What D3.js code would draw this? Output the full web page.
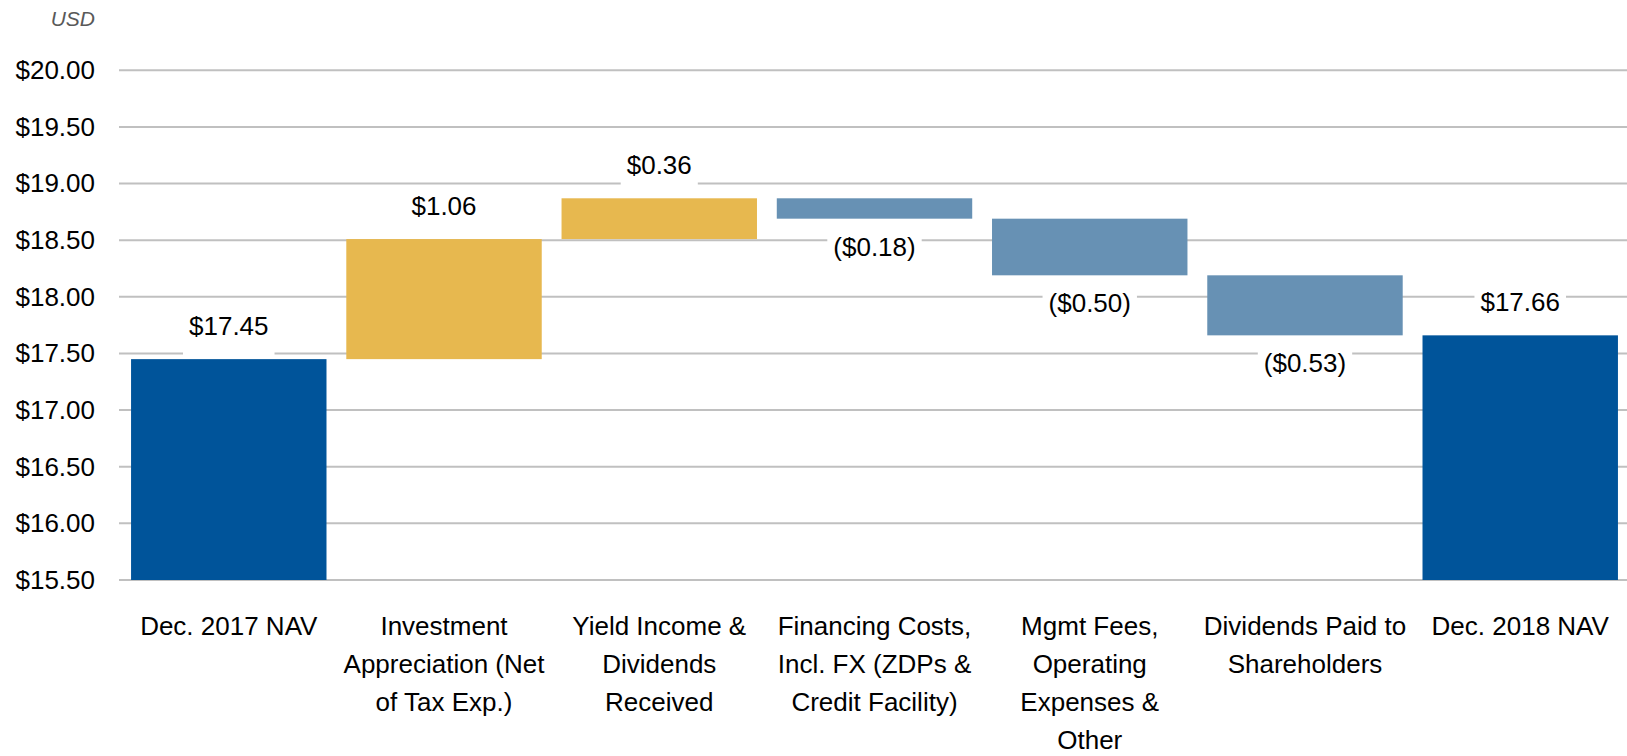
<!DOCTYPE html>
<html>
  <head>
    <meta charset="utf-8" />
    <title>NAV Bridge Dec. 2017 to Dec. 2018</title>
    <script src="https://d3js.org/d3.v7.min.js"></script>
    <style>
      body {
        margin: 0;
        background-color: white;
      }
      svg {
        display: block;
        font-family: "Liberation Sans", Arial, sans-serif;
      }
    </style>
  </head>

  <body>
    <svg width="1627" height="756" id="bridge"></svg>

    <script>
      // categories, split into the lines shown under each bar
      const categories = [
        ["Dec. 2017 NAV"],
        ["Investment", "Appreciation (Net", "of Tax Exp.)"],
        ["Yield Income &", "Dividends", "Received"],
        ["Financing Costs,", "Incl. FX (ZDPs &", "Credit Facility)"],
        ["Mgmt Fees,", "Operating", "Expenses &", "Other"],
        ["Dividends Paid to", "Shareholders"],
        ["Dec. 2018 NAV"]
      ];
      // change per step, totals are marked in kinds
      const values = [17.45, 1.06, 0.36, -0.18, -0.50, -0.53, 17.66];
      const kinds = ["total", "up", "up", "down", "down", "down", "total"];
      const labels = ["$17.45", "$1.06", "$0.36", "($0.18)", "($0.50)", "($0.53)", "$17.66"];
      const yTicks = [15.5, 16, 16.5, 17, 17.5, 18, 18.5, 19, 19.5, 20];

      const colors = {
        total: "#00549a",
        up: "#e7b84f",
        down: "#6791b4"
      };

      const svg = d3.select("#bridge");
      const fontSize = 26;

      // running start / end of each bar
      let running = 0;
      const bars = values.map(function(v, i) {
        let lo, hi;
        if (kinds[i] == "total") {
          lo = 15.5;
          hi = v;
          running = v;
        } else {
          const start = running;
          running = start + v;
          lo = Math.min(start, running);
          hi = Math.max(start, running);
        }
        return { i: i, lo: lo, hi: hi, kind: kinds[i], label: labels[i] };
      });

      const x = d3.scaleBand()
        .domain(d3.range(categories.length))
        .range([119, 1630])
        .paddingInner(0.092)
        .paddingOuter(0.056);

      const y = d3.scaleLinear()
        .domain([15.5, 20])
        .range([580, 70.3]);

      // gridlines
      svg.append("g")
        .selectAll("line")
        .data(yTicks)
        .enter()
        .append("line")
        .attr("x1", 119)
        .attr("x2", 1627)
        .attr("y1", d => y(d))
        .attr("y2", d => y(d))
        .attr("stroke", "#c0c0c0")
        .attr("stroke-width", 2);

      // y axis labels
      const yAxis = svg.append("g")
        .attr("transform", "translate(95,0)")
        .call(d3.axisLeft(y).tickValues(yTicks).tickSize(0).tickPadding(0)
          .tickFormat(d => "$" + d3.format(".2f")(d)));
      yAxis.select(".domain").remove();
      yAxis.selectAll("text")
        .attr("font-size", fontSize)
        .attr("font-family", "'Liberation Sans', Arial, sans-serif")
        .attr("fill", "#000");

      svg.append("text")
        .attr("x", 95)
        .attr("y", 26)
        .attr("text-anchor", "end")
        .attr("font-size", 21)
        .attr("font-style", "italic")
        .attr("fill", "#595959")
        .text("USD");

      // bars
      svg.append("g")
        .selectAll("rect")
        .data(bars)
        .enter()
        .append("rect")
        .attr("x", d => x(d.i))
        .attr("width", x.bandwidth())
        .attr("y", d => y(d.hi))
        .attr("height", d => y(d.lo) - y(d.hi))
        .attr("fill", d => colors[d.kind]);

      // data labels with white boxes
      const labelG = svg.append("g");
      bars.forEach(function(d) {
        const g = labelG.append("g");
        const cx = x(d.i) + x.bandwidth() / 2;
        const down = d.kind == "down";
        const base = down ? y(d.lo) + 37 : y(d.hi) - 24;
        const box = g.append("rect").attr("fill", "white");
        const t = g.append("text")
          .attr("x", cx)
          .attr("y", base)
          .attr("text-anchor", "middle")
          .attr("font-size", fontSize)
          .attr("fill", "#000")
          .text(d.label);
        const bb = t.node().getBBox();
        const top = down ? base - 36 : bb.y - 4;
        const bottom = down ? bb.y + bb.height + 4 : base + 20;
        box.attr("x", bb.x - 6)
          .attr("width", bb.width + 12)
          .attr("y", top)
          .attr("height", bottom - top);
      });

      // category labels
      const catG = svg.append("g");
      categories.forEach(function(lines, i) {
        const t = catG.append("text")
          .attr("text-anchor", "middle")
          .attr("font-size", fontSize)
          .attr("fill", "#000");
        lines.forEach(function(line, j) {
          t.append("tspan")
            .attr("x", x(i) + x.bandwidth() / 2)
            .attr("y", 635 + j * 38)
            .text(line);
        });
      });
    </script>
  </body>
</html>
